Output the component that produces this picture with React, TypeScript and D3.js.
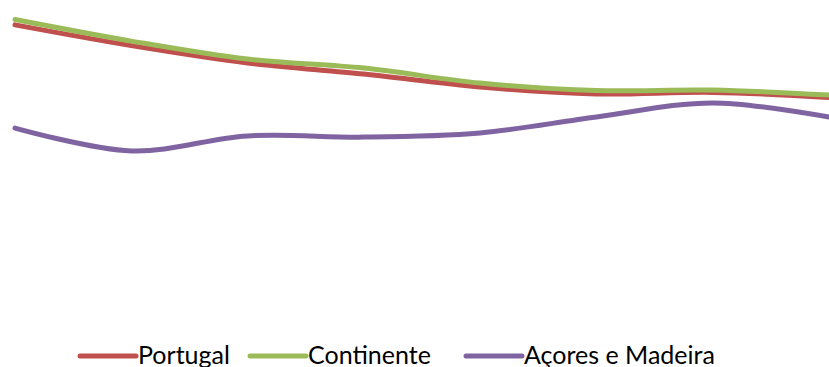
import React from "react";
import * as d3 from "d3";

const periods = ["P1", "P2", "P3", "P4", "P5", "P6", "P7", "P8"];
const portugal = [91.7, 84.8, 79.0, 75.3, 71.0, 68.7, 69.2, 67.5];
const continente = [93.5, 86.3, 80.3, 77.3, 72.3, 69.8, 70.0, 68.3];
const acoresMadeira = [57.3, 49.7, 54.7, 54.3, 55.7, 61.0, 65.7, 61.0];

const seriesNames = ["Portugal", "Continente", "Açores e Madeira"];
const seriesData = [portugal, continente, acoresMadeira];
const seriesColors = ["#C0504D", "#9BBB59", "#8064A2"];

const W = 829;
const H = 367;

export default function App() {
  const x = d3.scalePoint<string>().domain(periods).range([15, 829]);
  const y = d3.scaleLinear().domain([0, 100]).range([300, 0]);
  const line = d3
    .line<number>()
    .x((_, i) => x(periods[i]) as number)
    .y((d) => y(d))
    .curve(d3.curveCardinal.tension(0));

  const legendX = [80, 250, 466];
  const legendLineLen = 56;
  const legendY = 356;

  return (
    <svg
      width={W}
      height={H}
      style={{ position: "fixed", left: 0, top: 0, background: "#fff" }}
    >
      <rect width={W} height={H} fill="#fff" />
      {seriesData.map((s, i) => (
        <path
          key={seriesNames[i]}
          d={line(s) || ""}
          fill="none"
          stroke={seriesColors[i]}
          strokeWidth={5}
          strokeLinecap="round"
          strokeLinejoin="round"
        />
      ))}
      {seriesNames.map((n, i) => (
        <g key={n}>
          <line
            x1={legendX[i]}
            x2={legendX[i] + legendLineLen}
            y1={legendY}
            y2={legendY}
            stroke={seriesColors[i]}
            strokeWidth={5}
            strokeLinecap="round"
          />
          <text
            x={legendX[i] + legendLineLen + 2}
            y={364}
            fontFamily="Lato, 'Open Sans', sans-serif"
            fontSize={25}
            fill="#000"
          >
            {n}
          </text>
        </g>
      ))}
    </svg>
  );
}
